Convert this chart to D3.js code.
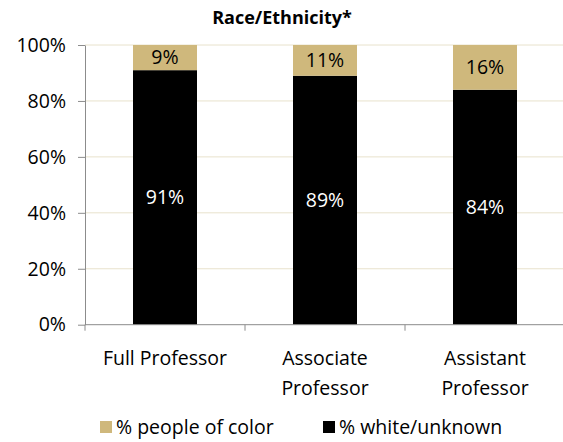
<!DOCTYPE html>
<html>
<head>
<meta charset="utf-8">
<script src="https://cdn.jsdelivr.net/npm/d3@7"></script>
<style>
  html, body { margin: 0; padding: 0; background: #fff; }
  svg { display: block; font-family: "Open Sans", "Noto Sans", sans-serif; }
</style>
</head>
<body>
<svg id="chart" width="563" height="442"></svg>
<script>
// Faculty rank categories and stacked shares (percent)
const categories = [["Full Professor"], ["Associate", "Professor"], ["Assistant", "Professor"]];
const categoryKeys = ["Full Professor", "Associate Professor", "Assistant Professor"];
const whiteUnknown = [91, 89, 84];
const peopleOfColor = [9, 11, 16];
const seriesNames = ["% people of color", "% white/unknown"];
const yTicks = [0, 20, 40, 60, 80, 100];

const svg = d3.select("#chart");
const margin = { top: 45, left: 85, right: -2, bottom: 117 };
const W = 563, H = 442;
const FS = 19.5;

const x = d3.scaleBand().domain(categoryKeys).range([margin.left, W - margin.right]).paddingInner(0.6).paddingOuter(0.3);
const y = d3.scaleLinear().domain([0, 100]).range([H - margin.bottom - 0.3, margin.top]);

// Title
svg.append("text").attr("x", 282).attr("y", 24).attr("text-anchor", "middle")
  .attr("font-size", 18).attr("font-weight", "bold").attr("fill", "#000").text("Race/Ethnicity*");

// Gridlines
svg.append("g").selectAll("line").data(yTicks.filter(d => d > 0)).join("line")
  .attr("x1", margin.left).attr("x2", W).attr("y1", d => y(d)).attr("y2", d => y(d))
  .attr("stroke", "#E8E2CC").attr("stroke-width", 1);

// Stacked data
const rows = categoryKeys.map((k, i) => ({ key: k, white: whiteUnknown[i], color: peopleOfColor[i] }));
const stack = d3.stack().keys(["white", "color"])(rows);
const fills = { white: "#000000", color: "#CFB87C" };
const labelFill = { white: "#ffffff", color: "#000000" };

stack.forEach(layer => {
  const g = svg.append("g");
  g.selectAll("rect").data(layer).join("rect")
    .attr("x", d => x(d.data.key)).attr("width", x.bandwidth())
    .attr("y", d => y(d[1])).attr("height", d => y(d[0]) - y(d[1]))
    .attr("fill", fills[layer.key]);
  g.selectAll("text").data(layer).join("text")
    .attr("x", d => x(d.data.key) + x.bandwidth() / 2)
    .attr("y", d => (y(d[0]) + y(d[1])) / 2)
    .attr("dy", "0.35em").attr("text-anchor", "middle")
    .attr("font-size", FS).attr("fill", labelFill[layer.key])
    .text(d => (d[1] - d[0]) + "%");
});

// Y axis
const yAxis = svg.append("g").attr("transform", `translate(${margin.left},0)`)
  .call(d3.axisLeft(y).tickValues(yTicks).tickFormat(d => d + "%").tickSize(7).tickSizeOuter(0));
yAxis.select(".domain").attr("stroke", "#8c8c8c");
yAxis.selectAll(".tick line").attr("stroke", "#8c8c8c");
yAxis.selectAll(".tick text").attr("font-size", FS).attr("fill", "#000").attr("x", -19)
  .attr("font-family", "'Open Sans', 'Noto Sans', sans-serif");

// X axis line and boundary ticks
const xg = svg.append("g");
xg.append("line").attr("x1", margin.left).attr("x2", W).attr("y1", y(0)).attr("y2", y(0))
  .attr("stroke", "#8c8c8c");
const step = x.step();
xg.selectAll("line.tk").data(categoryKeys).join("line").attr("class", "tk")
  .attr("x1", (d, i) => margin.left + i * step).attr("x2", (d, i) => margin.left + i * step)
  .attr("y1", y(0)).attr("y2", y(0) + 6).attr("stroke", "#8c8c8c");

// Category labels
categoryKeys.forEach((k, i) => {
  const t = svg.append("text").attr("text-anchor", "middle").attr("font-size", FS).attr("fill", "#000");
  categories[i].forEach((line, j) => {
    t.append("tspan").attr("x", x(k) + x.bandwidth() / 2).attr("y", 365 + j * 30).text(line);
  });
});

// Legend
const legendItems = [
  { name: seriesNames[0], fill: "#CFB87C", x: 100 },
  { name: seriesNames[1], fill: "#000000", x: 323 }
];
const lg = svg.append("g");
legendItems.forEach(it => {
  lg.append("rect").attr("x", it.x).attr("y", 421).attr("width", 12).attr("height", 12).attr("fill", it.fill);
  lg.append("text").attr("x", it.x + 16).attr("y", 427).attr("dy", "0.35em")
    .attr("font-size", FS).attr("fill", "#000").text(it.name);
});
</script>
</body>
</html>
